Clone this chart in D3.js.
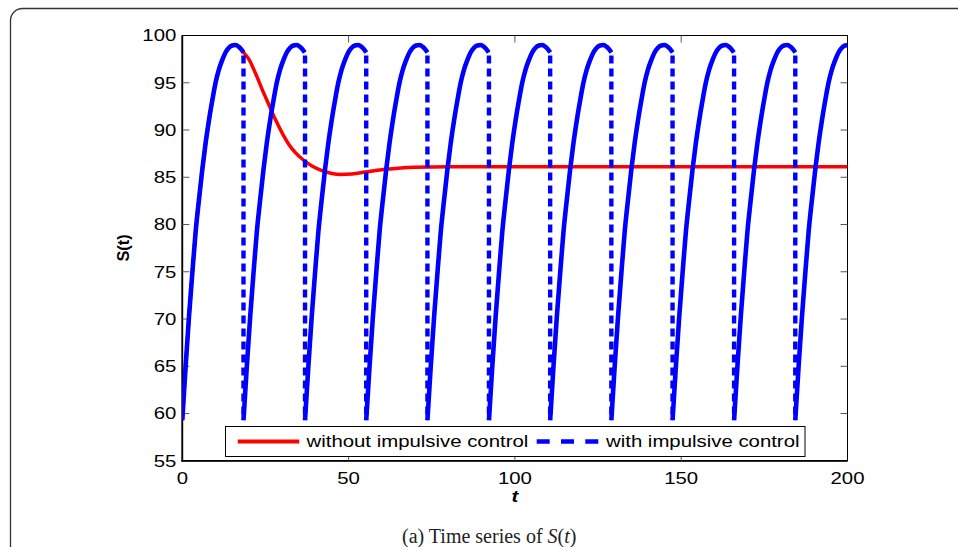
<!DOCTYPE html>
<html>
<head>
<meta charset="utf-8">
<script src="https://cdn.jsdelivr.net/npm/d3@7/dist/d3.min.js"></script>
<style>
html,body{margin:0;padding:0;background:#fff;}
svg{display:block;}
</style>
</head>
<body>
<svg id="chart" width="958" height="547"></svg>
<script>
// ---------- data ----------
const xTicks = [0, 50, 100, 150, 200];
const yTicks = [55, 60, 65, 70, 75, 80, 85, 90, 95, 100];

// one period of the controlled solution (time since last impulse, S)
const cycleT = [0, 1, 2, 3, 4, 5, 6, 7, 8, 9, 10, 11, 12, 13, 14, 15, 16, 17, 18.43];
const cycleS = [59.3, 65.0, 70.2, 74.8, 79.2, 82.6, 85.8, 88.6, 91.0, 93.1, 95.0, 96.4, 97.4, 98.2, 98.7, 98.95, 99.0, 98.8, 98.2];

// impulse moments (vertical dashed jumps)
const impulseT = [18.4, 36.9, 55.3, 73.7, 92.2, 110.6, 129.0, 147.4, 165.9, 184.3];
const jumpTop = 98.2;
const jumpBottom = 59.3;

// solution without impulsive control
const redT = [0, 1, 2, 3, 4, 5, 6, 7, 8, 9, 10, 11, 12, 13, 14, 15, 16, 17, 18.43,
              20, 22, 24, 26, 28, 30, 32, 34, 36.5, 39, 42, 45, 47.5, 51, 55, 60, 65, 70, 80, 100, 150, 200];
const redS = [59.3, 65.0, 70.2, 74.8, 79.2, 82.6, 85.8, 88.6, 91.0, 93.1, 95.0, 96.4, 97.4, 98.2, 98.7, 98.95, 99.0, 98.8, 98.2,
              97.5, 96.0, 94.3, 92.7, 91.1, 89.7, 88.5, 87.6, 86.8, 86.2, 85.7, 85.4, 85.3, 85.35, 85.55, 85.8, 85.95, 86.05, 86.1, 86.1, 86.1, 86.1];

const legendLabels = ["without impulsive control", "with impulsive control"];

// ---------- layout ----------
const svg = d3.select("#chart");
const L = 182.3, R = 847.5, T = 35.5, B = 460.8;
const SX = 1.25; // horizontal stretch of the figure's text
const x = d3.scaleLinear().domain([0, 200]).range([L, R]);
const y = d3.scaleLinear().domain([55, 100]).range([B, T]);

// page frame
svg.append("rect")
  .attr("x", 10.5).attr("y", 8.5).attr("width", 1000).attr("height", 600)
  .attr("rx", 12).attr("ry", 12)
  .attr("fill", "none").attr("stroke", "#333").attr("stroke-width", 1.3);

const tickFont = "Liberation Sans, Arial, Helvetica, sans-serif";
function stretchedText(g, tx, ty, str, anchor, opts) {
  opts = opts || {};
  return g.append("text")
    .attr("transform", `translate(${tx},${ty}) scale(${SX},1)`)
    .attr("text-anchor", anchor)
    .attr("font-family", tickFont)
    .attr("font-size", opts.size || 16.3)
    .attr("font-weight", opts.weight || "normal")
    .attr("font-style", opts.style || "normal")
    .attr("fill", "#000")
    .text(str);
}

// clip
svg.append("clipPath").attr("id", "clip")
  .append("rect").attr("x", L).attr("y", T - 10).attr("width", R - L).attr("height", B - T + 20);

// axes box
const axisG = svg.append("g");
axisG.append("rect").attr("x", L).attr("y", T).attr("width", R - L).attr("height", B - T)
  .attr("fill", "none").attr("stroke", "#000").attr("stroke-width", 1);
axisG.append("line").attr("x1", L).attr("x2", L).attr("y1", T).attr("y2", B + 0.8)
  .attr("stroke", "#000").attr("stroke-width", 1.8);
axisG.append("line").attr("x1", L - 0.8).attr("x2", R).attr("y1", B).attr("y2", B)
  .attr("stroke", "#000").attr("stroke-width", 1.8);

// ticks (inward, all four sides)
const tl = 7;
yTicks.forEach(v => {
  if (v === 55 || v === 100) return;
  axisG.append("line").attr("x1", L).attr("x2", L + tl).attr("y1", y(v)).attr("y2", y(v)).attr("stroke", "#555").attr("stroke-width", 1);
  axisG.append("line").attr("x1", R).attr("x2", R - tl).attr("y1", y(v)).attr("y2", y(v)).attr("stroke", "#555").attr("stroke-width", 1);
});
xTicks.forEach(v => {
  if (v === 0 || v === 200) return;
  axisG.append("line").attr("x1", x(v)).attr("x2", x(v)).attr("y1", B).attr("y2", B - tl).attr("stroke", "#555").attr("stroke-width", 1);
  axisG.append("line").attr("x1", x(v)).attr("x2", x(v)).attr("y1", T).attr("y2", T + tl).attr("stroke", "#555").attr("stroke-width", 1);
});

// tick labels
yTicks.forEach(v => stretchedText(svg, L - 6, y(v) + 5.9, String(v), "end"));
xTicks.forEach(v => stretchedText(svg, x(v), 483.5, String(v), "middle"));

// axis titles
svg.append("text")
  .attr("transform", `translate(129,248) rotate(-90)`)
  .attr("text-anchor", "middle")
  .attr("font-family", tickFont).attr("font-size", 16.3).attr("font-weight", "bold")
  .text("S(t)");
stretchedText(svg, x(100), 501.5, "t", "middle", {weight: "bold", style: "italic"});

// ---------- series ----------
const plot = svg.append("g").attr("clip-path", "url(#clip)");
const line = d3.line().x(d => x(d[0])).y(d => y(d[1])).curve(d3.curveMonotoneX);

// red: without impulsive control
const redData = redT.map((t, i) => [t, redS[i]]);
plot.append("path").datum(redData).attr("d", line)
  .attr("fill", "none").attr("stroke", "#ff0000").attr("stroke-width", 3.5)
  .attr("stroke-linejoin", "round");

// blue: with impulsive control
const starts = [0].concat(impulseT);
starts.forEach(t0 => {
  const seg = cycleT.map((ct, i) => [t0 + ct, cycleS[i]]);
  plot.append("path").datum(seg).attr("d", line)
    .attr("fill", "none").attr("stroke", "#0000ff").attr("stroke-width", 4.6)
    .attr("stroke-linejoin", "round");
});
impulseT.forEach(t => {
  plot.append("line")
    .attr("x1", x(t)).attr("x2", x(t))
    .attr("y1", y(jumpTop) + 3).attr("y2", y(jumpBottom))
    .attr("stroke", "#0000ff").attr("stroke-width", 4.4)
    .attr("stroke-dasharray", "8,5");
});

// ---------- legend ----------
const lg = svg.append("g");
lg.append("rect").attr("x", 225.5).attr("y", 426.5).attr("width", 579.5).attr("height", 30)
  .attr("fill", "#fff").attr("stroke", "#000").attr("stroke-width", 1);
lg.append("line").attr("x1", 237.7).attr("x2", 299.3).attr("y1", 441.5).attr("y2", 441.5)
  .attr("stroke", "#ff0000").attr("stroke-width", 4);
stretchedText(lg, 306.5, 447.3, legendLabels[0], "start");
lg.append("line").attr("x1", 536.7).attr("x2", 598.3).attr("y1", 441.5).attr("y2", 441.5)
  .attr("stroke", "#0000ff").attr("stroke-width", 4.4).attr("stroke-dasharray", "13,11.3");
stretchedText(lg, 606, 447.3, legendLabels[1], "start");

// ---------- caption ----------
const cap = svg.append("text")
  .attr("x", 402).attr("y", 543)
  .attr("font-family", "Liberation Serif, Times New Roman, serif")
  .attr("font-size", 20).attr("fill", "#222");
cap.append("tspan").text("(a) Time series of ");
cap.append("tspan").attr("font-style", "italic").text("S");
cap.append("tspan").text("(");
cap.append("tspan").attr("font-style", "italic").text("t");
cap.append("tspan").text(")");
</script>
</body>
</html>
